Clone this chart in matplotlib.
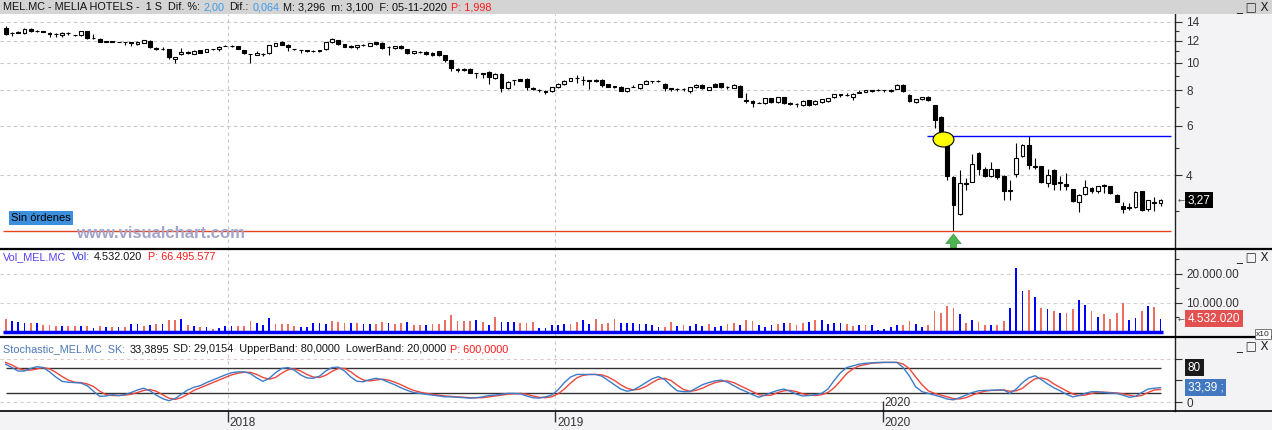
import numpy as np
import pandas as pd
import matplotlib
matplotlib.use('Agg')
import matplotlib.pyplot as plt
import matplotlib.dates as mdates
import matplotlib.transforms as mtransforms
from matplotlib.path import Path
from matplotlib.lines import Line2D
from matplotlib.patches import Rectangle
from matplotlib.ticker import FixedLocator, FixedFormatter, NullFormatter

plt.rcParams['font.family'] = ['Liberation Sans', 'DejaVu Sans']

W, H = 1272, 430

# weekly candles MEL.MC (euros)
open_ = [13.35, 12.72, 12.9, 12.74, 13.2, 13.0, 12.95, 12.8, 12.68, 12.56,
         12.78, 12.58, 12.56, 12.98, 12.25, 12.2, 11.9, 11.93, 11.88, 11.88,
         11.82, 11.66, 11.8, 12.0, 11.3, 11.25, 11.18, 10.32, 10.74, 10.9,
         10.78, 11.1, 10.97, 11.18, 11.18, 11.5, 11.5, 11.49, 11.11, 10.78,
         10.67, 10.8, 10.87, 11.49, 11.9, 11.55, 11.22, 11.12, 11.1, 11.02,
         11.0, 11.18, 11.83, 12.03, 11.67, 11.5, 11.35, 11.6, 11.49, 11.83,
         11.8, 11.42, 11.27, 11.49, 11.21, 10.82, 10.95, 10.95, 10.86, 11.02,
         10.67, 10.25, 9.52, 9.5, 9.55, 9.23, 9.2, 9.32, 8.82, 9.16,
         8.16, 8.7, 8.75, 8.8, 8.15, 8.05, 7.98, 7.97, 8.2, 8.43,
         8.65, 8.86, 8.72, 8.67, 8.72, 8.7, 8.4, 8.26, 8.24, 7.94,
         8.22, 8.15, 8.42, 8.62, 8.62, 8.42, 8.15, 8.12, 8.1, 7.98,
         8.2, 8.35, 8.02, 8.42, 8.47, 8.2, 8.17, 8.3, 7.4, 7.36,
         7.22, 7.2, 7.49, 7.25, 7.55, 7.22, 7.16, 7.1, 7.39, 7.15,
         7.25, 7.35, 7.55, 7.75, 7.72, 7.57, 7.85, 7.92, 7.95, 8.02,
         8.02, 7.93, 8.12, 8.36, 7.7, 7.27, 7.45, 7.6, 7.1, 6.45,
         5.3, 3.95, 2.92, 3.72, 3.8, 4.8, 4.2, 3.99, 4.2, 3.98,
         3.52, 4.04, 4.7, 5.12, 4.33, 4.3, 3.75, 4.18, 3.75, 3.72,
         3.57, 3.23, 3.44, 3.62, 3.52, 3.71, 3.66, 3.41, 3.11, 3.1,
         3.08, 3.52, 3.03, 3.22, 3.18]
high = [13.55, 12.85, 12.95, 13.25, 13.25, 13.05, 13.0, 12.85, 12.8, 12.84,
        12.85, 12.6, 13.0, 13.0, 12.7, 12.25, 12.0, 12.0, 11.9, 11.9,
        11.85, 11.95, 12.1, 12.05, 11.4, 11.35, 11.22, 10.5, 11.27, 11.0,
        11.1, 11.15, 11.2, 11.25, 11.45, 11.58, 11.6, 11.52, 11.15, 10.8,
        11.0, 10.82, 11.6, 11.78, 11.95, 11.7, 11.25, 11.15, 11.15, 11.1,
        11.15, 11.85, 12.23, 12.1, 11.7, 11.55, 11.6, 11.65, 11.78, 11.88,
        11.85, 11.45, 11.52, 11.55, 11.25, 11.05, 11.0, 11.0, 10.9, 11.05,
        10.7, 10.28, 9.62, 9.6, 9.6, 9.25, 9.22, 9.35, 9.18, 9.2,
        8.6, 8.72, 8.78, 8.85, 8.25, 8.12, 8.0, 8.24, 8.47, 8.7,
        8.88, 9.03, 8.96, 8.7, 8.78, 8.75, 8.45, 8.3, 8.28, 8.17,
        8.35, 8.45, 8.67, 8.65, 8.72, 8.47, 8.17, 8.14, 8.17, 8.24,
        8.42, 8.4, 8.24, 8.46, 8.52, 8.3, 8.4, 8.38, 7.8, 7.4,
        7.3, 7.52, 7.52, 7.58, 7.6, 7.28, 7.22, 7.4, 7.42, 7.38,
        7.48, 7.52, 7.78, 7.78, 7.8, 7.82, 8.05, 8.05, 8.05, 8.06,
        8.04, 8.1, 8.4, 8.4, 7.75, 7.46, 7.58, 7.65, 7.12, 6.5,
        5.4, 3.97, 4.18, 3.9, 4.75, 4.82, 4.28, 4.47, 4.22, 4.0,
        3.86, 5.2, 5.15, 5.5, 4.6, 4.32, 4.2, 4.2, 3.98, 4.08,
        3.58, 3.43, 3.85, 3.63, 3.68, 3.74, 3.67, 3.43, 3.23, 3.2,
        3.53, 3.53, 3.28, 3.36, 3.3]
low = [12.6, 12.45, 12.75, 12.7, 12.9, 12.85, 12.85, 12.38, 12.4, 12.38,
       12.6, 12.45, 12.5, 12.2, 12.2, 11.85, 11.85, 11.82, 11.84, 11.55,
       11.5, 11.6, 11.75, 11.3, 11.1, 11.1, 10.3, 10.0, 10.7, 10.75,
       10.75, 10.82, 10.95, 11.1, 11.0, 11.45, 11.38, 11.2, 10.78, 10.02,
       10.65, 10.62, 10.76, 11.45, 11.55, 11.03, 11.15, 10.86, 10.95, 10.9,
       10.95, 11.1, 11.8, 11.62, 11.38, 11.3, 11.25, 11.5, 11.45, 11.6,
       11.22, 10.67, 11.2, 11.2, 10.78, 10.78, 10.82, 10.67, 10.6, 10.62,
       10.05, 9.36, 9.32, 9.35, 9.2, 8.82, 8.85, 8.45, 8.78, 7.9,
       8.1, 8.36, 8.6, 8.05, 8.02, 7.92, 7.75, 7.92, 8.15, 8.38,
       8.6, 8.5, 8.38, 8.1, 8.58, 8.2, 8.2, 8.15, 7.95, 7.9,
       8.2, 8.12, 8.4, 8.52, 8.55, 7.98, 7.93, 7.95, 7.98, 7.8,
       8.17, 8.1, 8.0, 8.22, 8.15, 8.12, 8.14, 7.55, 7.2, 7.0,
       7.2, 7.18, 7.22, 7.22, 7.18, 7.12, 7.0, 7.05, 7.05, 7.1,
       7.2, 7.3, 7.5, 7.6, 7.62, 7.4, 7.83, 7.9, 7.92, 7.95,
       7.9, 7.9, 8.1, 7.9, 7.28, 7.24, 7.38, 7.33, 5.9, 5.5,
       3.86, 2.55, 2.9, 3.55, 3.8, 4.01, 3.93, 3.95, 3.87, 3.26,
       3.27, 3.95, 4.65, 4.2, 4.2, 3.75, 3.65, 3.55, 3.55, 3.55,
       3.22, 2.97, 3.42, 3.47, 3.45, 3.46, 3.43, 3.21, 2.95, 3.02,
       3.07, 2.98, 2.98, 2.98, 3.12]
close = [12.65, 12.76, 12.78, 13.22, 13.03, 12.95, 12.88, 12.63, 12.64, 12.8,
         12.72, 12.55, 12.98, 12.23, 12.22, 11.9, 11.93, 11.88, 11.86, 11.84,
         11.78, 11.9, 12.06, 11.37, 11.24, 11.22, 10.48, 10.48, 10.96, 10.84,
         11.05, 10.86, 11.18, 11.2, 11.42, 11.53, 11.46, 11.24, 10.81, 10.74,
         10.87, 10.76, 11.55, 11.74, 11.58, 11.4, 11.2, 11.1, 11.0, 11.0,
         11.08, 11.83, 12.13, 11.67, 11.42, 11.38, 11.55, 11.56, 11.74, 11.64,
         11.27, 11.4, 11.49, 11.3, 10.82, 11.03, 10.92, 10.72, 10.64, 10.67,
         10.25, 9.6, 9.48, 9.48, 9.25, 9.2, 9.16, 8.9, 9.14, 8.16,
         8.54, 8.67, 8.65, 8.22, 8.12, 8.02, 7.87, 8.2, 8.43, 8.65,
         8.84, 8.83, 8.68, 8.63, 8.62, 8.36, 8.24, 8.23, 7.98, 8.14,
         8.25, 8.42, 8.64, 8.6, 8.64, 8.15, 8.12, 8.1, 8.08, 8.2,
         8.36, 8.15, 8.2, 8.24, 8.2, 8.22, 8.34, 7.6, 7.36, 7.2,
         7.24, 7.49, 7.25, 7.55, 7.22, 7.18, 7.14, 7.36, 7.1, 7.33,
         7.43, 7.49, 7.75, 7.73, 7.7, 7.79, 7.92, 8.02, 8.02, 8.0,
         8.0, 8.05, 8.36, 7.94, 7.33, 7.43, 7.56, 7.37, 6.28, 5.55,
         3.97, 3.14, 3.77, 3.75, 4.4, 4.22, 3.97, 4.2, 3.95, 3.52,
         3.55, 4.6, 5.12, 4.35, 4.28, 3.78, 4.01, 3.72, 3.78, 3.67,
         3.24, 3.41, 3.63, 3.52, 3.66, 3.66, 3.45, 3.23, 3.05, 3.06,
         3.5, 3.01, 3.27, 3.18, 3.27]

# weekly volume, millions of shares; 1 = blue bar, 0 = red bar
volume = [4.5, 3.9, 3.3, 3.0, 3.0, 3.0, 2.3, 2.3, 2.0, 2.0,
          2.0, 2.0, 2.0, 2.0, 1.4, 2.0, 1.7, 1.7, 1.8, 1.8,
          2.6, 2.8, 2.1, 2.3, 2.6, 2.8, 4.0, 4.0, 4.5, 2.3,
          2.2, 1.7, 1.8, 0.9, 1.4, 2.1, 2.1, 2.1, 2.1, 3.7,
          3.0, 2.3, 4.8, 2.8, 2.8, 2.8, 2.1, 1.7, 1.8, 3.0,
          3.0, 2.8, 3.7, 3.4, 3.0, 3.0, 3.0, 2.8, 2.6, 2.8,
          3.4, 3.0, 2.6, 3.0, 3.6, 2.3, 2.3, 2.3, 2.6, 2.8,
          4.3, 5.7, 3.9, 3.9, 3.9, 4.1, 3.4, 2.3, 5.0, 3.4,
          3.4, 3.4, 3.0, 3.0, 3.3, 1.4, 1.4, 2.3, 2.3, 2.8,
          2.6, 3.4, 4.3, 2.8, 4.5, 2.8, 3.0, 4.5, 3.0, 3.0,
          3.0, 2.8, 2.8, 2.3, 1.8, 1.8, 3.4, 2.1, 2.4, 2.1,
          2.8, 2.1, 2.8, 1.8, 2.1, 2.8, 3.0, 2.4, 4.1, 3.8,
          2.4, 1.8, 2.4, 2.8, 3.0, 3.0, 2.4, 3.0, 3.4, 4.1,
          4.1, 2.8, 3.0, 3.0, 2.8, 2.1, 2.4, 2.4, 2.4, 0.7,
          1.0, 1.8, 2.4, 2.4, 3.8, 2.8, 1.8, 2.4, 7.4, 6.4,
          8.8, 8.1, 6.1, 3.0, 4.1, 3.4, 2.4, 2.4, 2.4, 3.8,
          8.1, 21.9, 14.0, 14.6, 11.9, 8.1, 7.8, 7.4, 6.7, 6.7,
          7.8, 10.9, 9.2, 7.4, 5.3, 6.1, 4.4, 6.4, 9.9, 4.1,
          4.8, 7.4, 8.8, 8.5, 4.532]
vol_up = [0, 1, 1, 1, 0, 1, 0, 0, 0, 1,
          0, 0, 1, 0, 1, 0, 1, 0, 1, 0,
          1, 1, 0, 1, 0, 1, 0, 0, 1, 0,
          1, 0, 1, 0, 1, 1, 1, 0, 0, 0,
          1, 1, 1, 0, 0, 0, 0, 1, 1, 1,
          1, 1, 0, 0, 0, 1, 0, 1, 1, 0,
          0, 1, 0, 0, 1, 0, 0, 1, 0, 0,
          0, 0, 0, 0, 0, 1, 0, 1, 0, 1,
          1, 1, 0, 0, 0, 1, 1, 1, 1, 1,
          0, 0, 1, 1, 0, 0, 0, 0, 1, 1,
          1, 1, 1, 1, 1, 0, 0, 1, 0, 1,
          1, 1, 0, 1, 1, 0, 0, 1, 0, 0,
          1, 1, 1, 0, 1, 0, 0, 0, 1, 0,
          1, 1, 1, 1, 0, 0, 1, 0, 1, 1,
          1, 1, 1, 0, 0, 1, 1, 0, 0, 0,
          0, 0, 1, 0, 1, 0, 0, 1, 0, 0,
          1, 1, 1, 0, 1, 0, 1, 0, 1, 0,
          0, 1, 1, 0, 1, 0, 0, 0, 0, 1,
          1, 0, 1, 0, 1]

# stochastic %K (blue) and %D (red)
sk = [88, 80, 72, 72, 78, 82, 80, 70, 58, 48,
      46, 45, 44, 38, 25, 13, 14, 17, 15, 17,
      22, 28, 32, 26, 16, 8, 3, 8, 18, 28,
      34, 38, 45, 51, 57, 63, 68, 70, 70, 66,
      56, 48, 55, 68, 78, 80, 74, 63, 56, 55,
      60, 72, 80, 81, 72, 58, 48, 47, 52, 55,
      52, 46, 40, 33, 27, 22, 20, 18, 16, 14,
      12, 12, 11, 10, 9, 10, 12, 15, 16, 18,
      20, 20, 19, 14, 10, 9, 12, 16, 28, 45,
      58, 64, 64, 64, 64, 60, 50, 40, 30, 25,
      28, 36, 45, 54, 59, 52, 38, 26, 24, 24,
      32, 40, 45, 49, 51, 46, 38, 30, 24, 17,
      11, 16, 22, 27, 30, 25, 18, 14, 15, 17,
      20, 30, 50, 68, 80, 84, 88, 90, 91, 92,
      92, 92, 92, 80, 60, 35, 24, 20, 16, 12,
      7, 5, 10, 16, 22, 26, 27, 27, 28, 28,
      20, 30, 45, 56, 61, 52, 42, 33, 26, 18,
      12, 15, 20, 24, 24, 22, 21, 20, 16, 11,
      13, 22, 30, 32, 33.39]
sd = [92, 86, 78, 74, 74, 77, 80, 77, 69, 59,
      51, 46, 45, 42, 36, 25, 17, 15, 15, 16,
      18, 22, 27, 29, 25, 17, 9, 6, 10, 18,
      27, 33, 39, 45, 51, 57, 63, 67, 69, 69,
      64, 57, 53, 57, 67, 75, 77, 72, 64, 58,
      57, 62, 71, 78, 78, 70, 59, 51, 49, 51,
      53, 51, 46, 40, 33, 27, 23, 20, 18, 16,
      14, 13, 12, 11, 10, 10, 10, 12, 14, 16,
      18, 19, 20, 18, 14, 11, 10, 12, 19, 30,
      44, 56, 62, 64, 64, 63, 58, 50, 40, 32,
      28, 30, 36, 45, 53, 55, 50, 39, 29, 25,
      27, 32, 39, 45, 48, 49, 45, 38, 31, 24,
      17, 15, 16, 22, 26, 27, 24, 19, 16, 15,
      17, 22, 33, 49, 66, 77, 84, 87, 90, 91,
      92, 92, 92, 88, 77, 58, 40, 26, 20, 16,
      12, 8, 7, 10, 16, 21, 25, 27, 27, 28,
      25, 26, 32, 44, 54, 56, 52, 42, 34, 26,
      19, 15, 16, 20, 23, 23, 22, 21, 19, 16,
      13, 15, 22, 28, 29.02]

price_ticks = [4, 6, 8, 10, 12, 14]
price_minor = [3, 5, 7, 9, 11, 13]
resist_level = 5.51
resist_from, resist_to = '2020-02-19', '2020-11-18'
support_level = 2.54
support_from, support_to = '2017-04-25', '2020-11-18'
mark_date, mark_price = '2020-03-08', 5.38
year_starts = ['2018-01-01', '2019-01-01', '2020-01-01']
year_labels = ['2018', '2019', '2020']

dates = pd.date_range('2017-04-28', periods=len(close), freq='7D')
xd = mdates.date2num(dates)
o, h, l, c = map(np.array, (open_, high, low, close))
yrs = [mdates.date2num(pd.Timestamp(d)) for d in year_starts]


def fx(px):
    return px / W


def fy(py):
    return 1 - py / H


fig = plt.figure(figsize=(W / 100, H / 100), dpi=100, facecolor='#f3f3f6')
fig.patches.append(Rectangle((0, fy(14)), 1, 14 / H, transform=fig.transFigure,
                             facecolor='#d4d4d4', edgecolor='none', zorder=0))

ax_p = fig.add_axes([0, fy(249), fx(1175), (249 - 14) / H])
ax_v = fig.add_axes([0, fy(337), fx(1175), (337 - 249) / H])
ax_s = fig.add_axes([0, fy(411), fx(1175), (411 - 337) / H])

PX_DAY = 0.8967
xlo = yrs[0] - 228 / PX_DAY
xhi = yrs[0] + (1175 - 228) / PX_DAY

for ax in (ax_p, ax_v, ax_s):
    ax.set_xlim(xlo, xhi)
    ax.set_facecolor('white')
    for s in ('left', 'top', 'bottom'):
        ax.spines[s].set_visible(False)
    ax.spines['right'].set_color('#222222')
    ax.spines['right'].set_linewidth(1.0)
    ax.yaxis.tick_right()
    ax.tick_params(axis='y', which='major', length=5, width=0.8, pad=3,
                   labelsize=8.5, colors='#333333', direction='out')
    ax.tick_params(axis='y', which='minor', length=3, width=0.8, colors='#333333')
    ax.tick_params(axis='x', which='both', bottom=False, labelbottom=False)
    for xv in yrs[:2]:
        ax.axvline(xv, color='#c8c8c8', lw=0.8, ls=(0, (3, 3)), zorder=0)

# ---- price panel
ax_p.set_yscale('log')
ax_p.set_ylim(2.193, 14.91)
ax_p.yaxis.set_major_locator(FixedLocator(price_ticks))
ax_p.yaxis.set_major_formatter(FixedFormatter([str(t) for t in price_ticks]))
ax_p.yaxis.set_minor_locator(FixedLocator(price_minor))
ax_p.yaxis.set_minor_formatter(NullFormatter())
for t in price_ticks:
    ax_p.axhline(t, color='#c8c8c8', lw=0.8, ls=(0, (3, 3)), zorder=0)

up = c >= o
ax_p.vlines(xd, l, h, color='black', lw=0.8, zorder=2)
ax_p.bar(xd, np.abs(c - o), bottom=np.minimum(o, c), width=4.3,
         color=np.where(up, 'white', 'black'), edgecolor='black', linewidth=0.8, zorder=3)

ax_p.hlines(resist_level, mdates.datestr2num(resist_from), mdates.datestr2num(resist_to),
            color='#0000ff', lw=1.0, zorder=4)
ax_p.hlines(support_level, mdates.datestr2num(support_from), mdates.datestr2num(support_to),
            color='#e8431c', lw=1.0, zorder=4)

circ = Path.unit_circle()
ell = Path(circ.vertices * np.array([1.0, 0.72]), circ.codes)
ax_p.plot([mdates.datestr2num(mark_date)], [mark_price], marker=ell, ms=15,
          mfc='#ffff00', mec='black', mew=0.8, zorder=5)

low_i = int(np.argmin(l))
ax_p.annotate('', xy=(xd[low_i], 2.48), xytext=(xd[low_i], 2.19),
              arrowprops=dict(arrowstyle='simple,head_length=0.7,head_width=1.1,tail_width=0.45',
                              fc='#4cb450', ec='#3d9a40', lw=0.5, shrinkA=0, shrinkB=0,
                              mutation_scale=10), zorder=6)

blend_p = mtransforms.blended_transform_factory(ax_p.transAxes, ax_p.transData)
ax_p.text(1.011, close[-1], '3,27', transform=blend_p, color='white', fontsize=8.5,
          va='center', ha='left', bbox=dict(facecolor='black', edgecolor='none', pad=1.8))
ax_p.text(1.002, close[-1], '\u2190', transform=blend_p, color='#555555', fontsize=6,
          va='center', ha='left', family='DejaVu Sans')

fig.text(fx(11), fy(218), 'Sin órdenes', fontsize=8, color='black', va='center', ha='left',
         bbox=dict(facecolor='#3c8fdc', edgecolor='none', pad=1.6))
fig.text(fx(76), fy(233), 'www.visualchart.com', fontsize=12, fontweight='bold',
         color='#a3a5cc', va='center', ha='left', zorder=10)

# ---- volume panel
ax_v.set_ylim(-1.72, 28.6)
ax_v.bar(xd, volume, width=2.0, color=['#0000ff' if u else '#ec6f5f' for u in vol_up], zorder=2)
ax_v.hlines(0, xd[0] - 3, xd[-1] + 3, color='#0000ff', lw=2.5, zorder=3)
ax_v.yaxis.set_major_locator(FixedLocator([10, 20]))
ax_v.yaxis.set_major_formatter(FixedFormatter(['10.000.00', '20.000.00']))
ax_v.yaxis.set_minor_locator(FixedLocator([5, 15, 25]))
ax_v.yaxis.set_minor_formatter(NullFormatter())
for t in (10, 20):
    ax_v.axhline(t, color='#d6cccc', lw=0.8, ls=(0, (3, 3)), zorder=0)
blend_v = mtransforms.blended_transform_factory(ax_v.transAxes, ax_v.transData)
ax_v.text(1.011, volume[-1], '4.532.020', transform=blend_v, color='white', fontsize=8.5,
          va='center', ha='left', bbox=dict(facecolor='#e25050', edgecolor='none', pad=1.8))
ax_v.text(1.002, volume[-1], '\u2190', transform=blend_v, color='#555555', fontsize=6,
          va='center', ha='left', family='DejaVu Sans')

# ---- stochastic panel
ax_s.set_ylim(-20.9, 151)
for t in (0, 100):
    ax_s.axhline(t, color='#dcc8c8', lw=0.8, ls=(0, (3, 3)), zorder=0)
ax_s.hlines([20, 80], xd[0], xd[-1], color='#333333', lw=1.0, zorder=1)
ax_s.plot(xd, sd, color='#f0463a', lw=1.0, zorder=2)
ax_s.plot(xd, sk, color='#3d7cc9', lw=1.0, zorder=3)
ax_s.yaxis.set_major_locator(FixedLocator([0, 50, 100]))
ax_s.yaxis.set_major_formatter(FixedFormatter(['0', '', '']))
blend_s = mtransforms.blended_transform_factory(ax_s.transAxes, ax_s.transData)
ax_s.text(1.011, 80, '80', transform=blend_s, color='white', fontsize=8.5,
          va='center', ha='left', bbox=dict(facecolor='#1a1a1a', edgecolor='none', pad=1.8))
ax_s.text(1.011, sk[-1], '33,39 ;', transform=blend_s, color='white', fontsize=8.5,
          va='center', ha='left', bbox=dict(facecolor='#4278c0', edgecolor='none', pad=1.8))

# x axis: year ticks under the stochastic panel
ax_s.set_xticks(yrs)
ax_s.tick_params(axis='x', which='major', bottom=True, length=8, width=1, color='#333333',
                 direction='out')
blend_x = mtransforms.blended_transform_factory(ax_s.transData, ax_s.transAxes)
for xv, lab in zip(yrs, year_labels):
    ax_s.text(xv + 2, -0.16, lab, transform=blend_x, fontsize=8.5, color='#333333',
              va='center', ha='left', clip_on=False)
ax_s.vlines(yrs[2], -20.9, 3, color='#333333', lw=1)
ax_s.text(yrs[2] + 2, -3, year_labels[2], fontsize=8.5, color='#333333', va='center', ha='left')

# separators
for py, lw in ((249, 1.6), (337, 1.6), (411, 1.2)):
    fig.add_artist(Line2D([0, 1], [fy(py), fy(py)], transform=fig.transFigure,
                          color='black', lw=lw))

# header texts, laid one after the other so they never overlap
renderer = fig.canvas.get_renderer()


def header(py, parts):
    x_next = 0
    for px, s, col in parts:
        x = max(px, x_next)
        t = fig.text(fx(x), fy(py), s, color=col, fontsize=7.8, va='center', ha='left')
        x_next = t.get_window_extent(renderer).x1 + 4


header(7, [(3, 'MEL.MC - MELIA HOTELS -  1 S  Dif. %:', '#111111'),
           (198, '2,00', '#3d9be9'),
           (226, 'Dif.:', '#111111'),
           (251, '0,064', '#3d9be9'),
           (281, 'M: 3,296  m: 3,100  F: 05-11-2020', '#111111'),
           (450, 'P: 1,998', '#ff1a1a')])
header(257, [(3, 'Vol_MEL.MC', '#5a3ff0'),
             (72, 'Vol:', '#3535ee'),
             (94, '4.532.020', '#111111'),
             (148, 'P: 66.495.577', '#ff1a1a')])
header(349, [(3, 'Stochastic_MEL.MC  SK:', '#4a78b8'),
             (121, '33,3895', '#111111'),
             (163, 'SD: 29,0154  UpperBand: 80,0000  LowerBand: 20,0000', '#111111'),
             (450, 'P: 600,0000', '#ff1a1a')])

for py in (7, 257, 346):
    fig.text(fx(1236), fy(py), '_ \u25a1 X', fontsize=8.5, color='#222222',
             va='center', ha='left', family='DejaVu Sans')
fig.text(fx(1256), fy(334), 'x10', fontsize=6, color='#222222', va='center', ha='left',
         bbox=dict(facecolor='white', edgecolor='#444444', lw=0.5, pad=0.8))

fig.savefig('out.png', dpi=100, facecolor=fig.get_facecolor())
